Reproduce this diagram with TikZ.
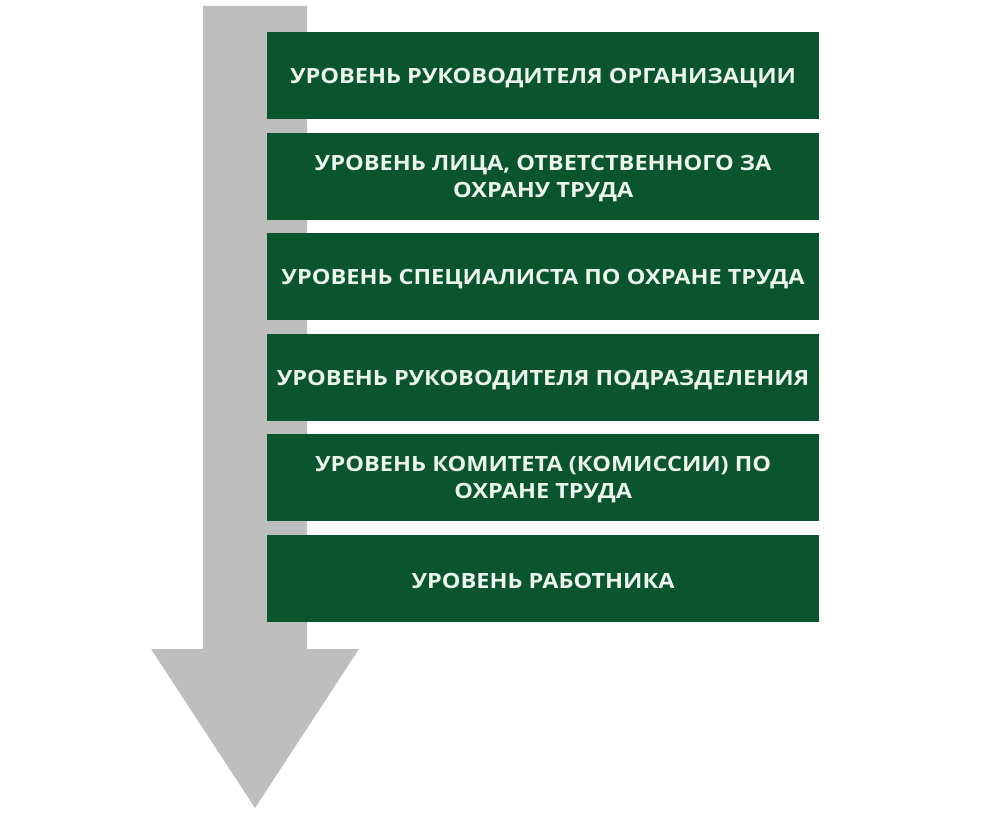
\documentclass[tikz,border=0pt]{standalone}
\usepackage{fontspec}
\setmainfont{Open Sans}
\newfontfamily\boxfont{Open Sans}[FakeStretch=1.12]
\definecolor{boxgreen}{RGB}{10,84,46}
\definecolor{arrowgray}{RGB}{190,190,190}
\definecolor{txtwhite}{RGB}{236,246,238}
\begin{document}
\begin{tikzpicture}[x=1pt,y=-1pt,
  levelbox/.style={fill=boxgreen,draw=none,minimum width=552pt,minimum height=87pt,
    inner sep=0pt,anchor=north west},
  leveltext/.style={text=txtwhite,align=center,inner sep=0pt,
    font=\boxfont\bfseries\fontsize{21}{27}\selectfont}]
\useasboundingbox[fill=white] (0,0) rectangle (1000,813);
\fill[arrowgray] (203,6) -- (307,6) -- (307,649) -- (359,649) -- (255,808) -- (151,649) -- (203,649) -- cycle;
\node[levelbox] (l1) at (267,32) {};
\node[levelbox] (l2) at (267,133) {};
\node[levelbox] (l3) at (267,233) {};
\node[levelbox] (l4) at (267,334) {};
\node[levelbox] (l5) at (267,434) {};
\node[levelbox] (l6) at (267,535) {};
\node[leveltext] (t1) at ([yshift=-2pt]l1.center) {УРОВЕНЬ РУКОВОДИТЕЛЯ ОРГАНИЗАЦИИ};
\node[leveltext] (t2) at ([yshift=-2pt]l2.center) {УРОВЕНЬ ЛИЦА, ОТВЕТСТВЕННОГО ЗА\\ОХРАНУ ТРУДА};
\node[leveltext] (t3) at ([yshift=-2pt]l3.center) {УРОВЕНЬ СПЕЦИАЛИСТА ПО ОХРАНЕ ТРУДА};
\node[leveltext] (t4) at ([yshift=-2pt]l4.center) {УРОВЕНЬ РУКОВОДИТЕЛЯ ПОДРАЗДЕЛЕНИЯ};
\node[leveltext] (t5) at ([yshift=-2pt]l5.center) {УРОВЕНЬ КОМИТЕТА (КОМИССИИ) ПО\\ОХРАНЕ ТРУДА};
\node[leveltext] (t6) at ([yshift=-2pt]l6.center) {УРОВЕНЬ РАБОТНИКА};
\end{tikzpicture}
\end{document}
